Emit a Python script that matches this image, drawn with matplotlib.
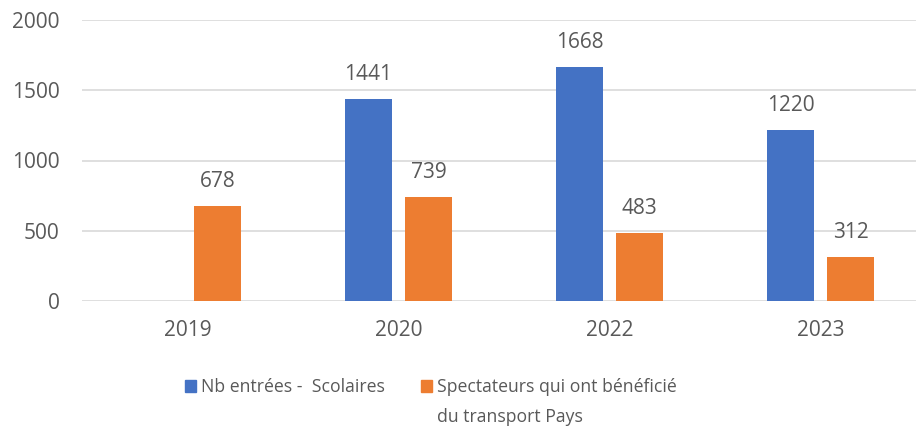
import matplotlib
matplotlib.use("Agg")
import matplotlib.pyplot as plt
from matplotlib.patches import Rectangle
import numpy as np

years = ["2019", "2020", "2022", "2023"]
scolaires = [None, 1441, 1668, 1220]
transport = [678, 739, 483, 312]
label_scolaires = "Nb entrées -  Scolaires"
label_transport = ["Spectateurs qui ont bénéficié", "du transport Pays"]

blue = "#4472C4"
orange = "#ED7D31"
grey = "#595959"

plt.rcParams["font.family"] = ["Open Sans", "DejaVu Sans"]

W, H = 916, 430
fig = plt.figure(figsize=(W / 100, H / 100), dpi=100)
# plot area runs a little past the right edge, as in the cropped reference
ax = fig.add_axes([82 / W, 1 - 301 / H, 844 / W, 281 / H])

x = np.arange(len(years))
w = 0.223
off = 0.142

for i, v in enumerate(scolaires):
    if v is None:
        continue
    ax.bar(x[i] - off, v, w, color=blue, zorder=3)
    ax.annotate(str(v), (x[i] - off, v), xytext=(0, 10), textcoords="offset points",
                ha="center", va="bottom", fontsize=15, color=grey)
for i, v in enumerate(transport):
    ax.bar(x[i] + off, v, w, color=orange, zorder=3)
    ax.annotate(str(v), (x[i] + off, v), xytext=(0, 10), textcoords="offset points",
                ha="center", va="bottom", fontsize=15, color=grey)

ax.set_xlim(-0.5, len(years) - 0.5)
ax.set_ylim(0, 2000)
ax.set_yticks([0, 500, 1000, 1500, 2000])
ax.set_xticks(x)
ax.set_xticklabels(years)
ax.yaxis.grid(True, color="#D9D9D9", linewidth=1.2, zorder=0)
ax.set_axisbelow(True)
for s in ax.spines.values():
    s.set_visible(False)
ax.tick_params(length=0, labelsize=15, labelcolor=grey)
ax.tick_params(axis="y", pad=16)
ax.tick_params(axis="x", pad=14)

# legend drawn by hand so the square lines up with the first text line
fs_leg = 12.7
fig.patches.append(Rectangle((185 / W, 1 - 392 / H), 11 / W, 12 / H,
                             transform=fig.transFigure, color=blue))
fig.text(201 / W, 1 - 392 / H, label_scolaires, fontsize=fs_leg, color=grey, va="baseline")
fig.patches.append(Rectangle((421 / W, 1 - 392 / H), 11 / W, 12 / H,
                             transform=fig.transFigure, color=orange))
for k, line in enumerate(label_transport):
    fig.text(437 / W, 1 - (392 + 30 * k) / H, line, fontsize=fs_leg, color=grey, va="baseline")

fig.savefig("out.png", dpi=100)
